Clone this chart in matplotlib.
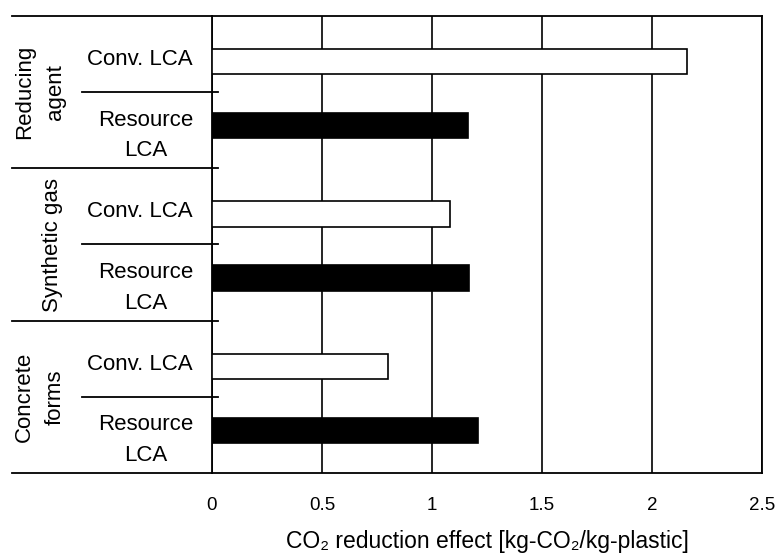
import matplotlib.pyplot as plt
from matplotlib import transforms
from matplotlib.lines import Line2D

plt.rcParams['font.family'] = ['Liberation Sans', 'DejaVu Sans']

groups = ['Reducing\nagent', 'Synthetic gas', 'Concrete\nforms']
methods = ['Conv. LCA', 'Resource\nLCA']
conv_lca = [2.16, 1.08, 0.80]
resource_lca = [1.165, 1.17, 1.21]
xticks = [0, 0.5, 1, 1.5, 2, 2.5]
xticklabels = ['0', '0.5', '1', '1.5', '2', '2.5']
xlabel = 'CO₂ reduction effect [kg-CO₂/kg-plastic]'

W, H = 777, 556
fig = plt.figure(figsize=(W / 100, H / 100), dpi=100)
ax = fig.add_axes([212 / W, 1 - 473 / H, 550 / W, 457 / H])

# each group takes two rows; bars sit a little low in their row
conv_pos = [2 * i + 0.6 for i in range(len(groups))]
res_pos = [2 * i + 1.44 for i in range(len(groups))]
ax.barh(conv_pos, conv_lca, height=0.335, color='white', edgecolor='black', linewidth=1.2, zorder=3)
ax.barh(res_pos, resource_lca, height=0.335, color='black', edgecolor='black', linewidth=1.2, zorder=3)

ax.set_xlim(0, 2.5)
ax.set_ylim(6, 0)
ax.set_yticks([])
ax.set_xticks(xticks)
ax.set_xticklabels(xticklabels, fontsize=13.5)
ax.tick_params(axis='x', length=0, pad=17)
ax.xaxis.grid(True, color='black', linewidth=1.2, zorder=0)
for s in ax.spines.values():
    s.set_linewidth(1.3)
ax.set_xlabel(xlabel, fontsize=16.5, labelpad=12)

# label area on the left
tr = transforms.blended_transform_factory(fig.transFigure, ax.transData)
x0, xa, xt = 12 / W, 212 / W, 218 / W
for y in [0, 6]:
    fig.add_artist(Line2D([x0, xa], [y, y], transform=tr, color='black', linewidth=1.3))
for y in [2, 4]:
    fig.add_artist(Line2D([x0, xt], [y, y], transform=tr, color='black', linewidth=1.3))
for i in range(len(groups)):
    y = 2 * i + 1
    fig.add_artist(Line2D([82 / W, xt], [y, y], transform=tr, color='black', linewidth=1.3))
    for j, m in enumerate(methods):
        fig.text(193 / W, 2 * i + 0.57 + j, m, transform=tr, ha='right', va='center',
                 multialignment='center', fontsize=16, linespacing=1.6)
    gx = 40 / W if '\n' in groups[i] else 53 / W
    fig.text(gx, 2 * i + 1, groups[i], transform=tr, ha='center', va='center',
             rotation=90, multialignment='center', fontsize=16, linespacing=1.6)

fig.savefig('out.png', dpi=100)
